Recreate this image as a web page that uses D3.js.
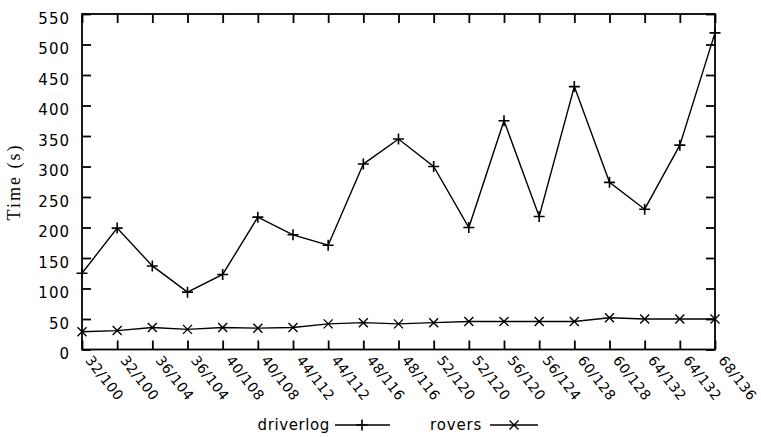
<!DOCTYPE html>
<html><head><meta charset="utf-8">
<script src="https://cdn.jsdelivr.net/npm/d3@7"></script>
<style>body{margin:0;background:#fff}</style></head>
<body><svg id="c" width="761" height="437"></svg>
<script>
const categories = ["32/100","32/100","36/104","36/104","40/108","40/108","44/112","44/112","48/116","48/116","52/120","52/120","56/120","56/124","60/128","60/128","64/132","64/132","68/136"];
const driverlog = [125,199,137,94,123,217,188,171,304,345,300,200,375,218,431,274,230,335,519];
const rovers = [29,31,36,33,36,35,36,42,44,42,44,46,46,46,46,52,50,50,50];
const yTicks = [0,50,100,150,200,250,300,350,400,450,500,550];
const seriesNames = ["driverlog","rovers"];

const svg = d3.select("#c");
const L = 82, R = 715, T = 14, B = 349.5;
const x = d3.scalePoint().domain(d3.range(categories.length)).range([L, R]);
const y = d3.scaleLinear().domain([0, 550]).range([B, T]);
const tickFont = "DejaVu Sans, sans-serif";

// frame
svg.append("rect").attr("x", L).attr("y", T).attr("width", R - L).attr("height", B - T)
  .attr("fill", "none").attr("stroke", "#000").attr("stroke-width", 1.8);

// bottom axis
const gx = svg.append("g").attr("transform", `translate(0,${B})`)
  .call(d3.axisBottom(x).tickSizeInner(-9).tickSizeOuter(0).tickFormat(i => categories[i]));
gx.select(".domain").remove();
gx.selectAll("line").attr("stroke", "#000").attr("stroke-width", 1.8);
gx.selectAll("text")
  .attr("text-anchor", "start")
  .attr("transform", "translate(6,8) rotate(52)")
  .attr("x", 0).attr("y", 0).attr("dy", "0.35em")
  .style("font-family", tickFont).style("font-size", "14px").style("letter-spacing", "0.5px")
  .attr("fill", "#000");

// top ticks
const gt = svg.append("g").attr("transform", `translate(0,${T})`)
  .call(d3.axisTop(x).tickSizeInner(-9).tickSizeOuter(0).tickFormat(""));
gt.select(".domain").remove();
gt.selectAll("line").attr("stroke", "#000").attr("stroke-width", 1.8);

// left axis
const gy = svg.append("g").attr("transform", `translate(${L},0)`)
  .call(d3.axisLeft(y).tickValues(yTicks).tickSizeInner(-9).tickSizeOuter(0).tickPadding(12));
gy.select(".domain").remove();
gy.selectAll("line").attr("stroke", "#000").attr("stroke-width", 1.8);
gy.selectAll("text")
  .attr("dy", "0.6em")
  .style("font-family", tickFont).style("font-size", "15px").style("letter-spacing", "1px")
  .attr("fill", "#000");

// right ticks
const gr = svg.append("g").attr("transform", `translate(${R},0)`)
  .call(d3.axisRight(y).tickValues(yTicks).tickSizeInner(-9).tickSizeOuter(0).tickFormat(""));
gr.select(".domain").remove();
gr.selectAll("line").attr("stroke", "#000").attr("stroke-width", 1.8);

// y label
svg.append("text").attr("transform", "translate(20,182) rotate(-90)")
  .attr("text-anchor", "middle")
  .style("font-family", "Liberation Serif, serif").style("font-size", "18px").style("letter-spacing", "2px")
  .text("Time (s)");

const line = d3.line().x((d, i) => x(i)).y(d => y(d));
const plus = (g, cx, cy, s) => g.append("path").attr("d", `M${cx - s},${cy}H${cx + s}M${cx},${cy - s}V${cy + s}`)
  .attr("stroke", "#000").attr("stroke-width", 1.6).attr("fill", "none");
const cross = (g, cx, cy, s) => g.append("path").attr("d", `M${cx - s},${cy - s}L${cx + s},${cy + s}M${cx - s},${cy + s}L${cx + s},${cy - s}`)
  .attr("stroke", "#000").attr("stroke-width", 1.4).attr("fill", "none");

const plot = svg.append("g");
plot.append("path").datum(driverlog).attr("d", line).attr("fill", "none").attr("stroke", "#000").attr("stroke-width", 1.4);
plot.append("path").datum(rovers).attr("d", line).attr("fill", "none").attr("stroke", "#000").attr("stroke-width", 1.4);
driverlog.forEach((v, i) => plus(plot, x(i), y(v), 5.5));
rovers.forEach((v, i) => cross(plot, x(i), y(v), 4.5));

// legend
const legFont = "DejaVu Sans, sans-serif";
const leg = svg.append("g");
leg.append("text").attr("x", 330).attr("y", 425).attr("dy", "0.35em").attr("text-anchor", "end")
  .style("font-family", legFont).style("font-size", "15px").style("letter-spacing", "0.6px").text(seriesNames[0]);
leg.append("line").attr("x1", 335).attr("x2", 390).attr("y1", 425).attr("y2", 425).attr("stroke", "#000").attr("stroke-width", 1.4);
plus(leg, 362, 425, 5.5);
leg.append("text").attr("x", 482).attr("y", 425).attr("dy", "0.35em").attr("text-anchor", "end")
  .style("font-family", legFont).style("font-size", "15px").style("letter-spacing", "0.8px").text(seriesNames[1]);
leg.append("line").attr("x1", 490).attr("x2", 538).attr("y1", 425).attr("y2", 425).attr("stroke", "#000").attr("stroke-width", 1.4);
cross(leg, 514, 425, 4.5);
</script></body></html>
